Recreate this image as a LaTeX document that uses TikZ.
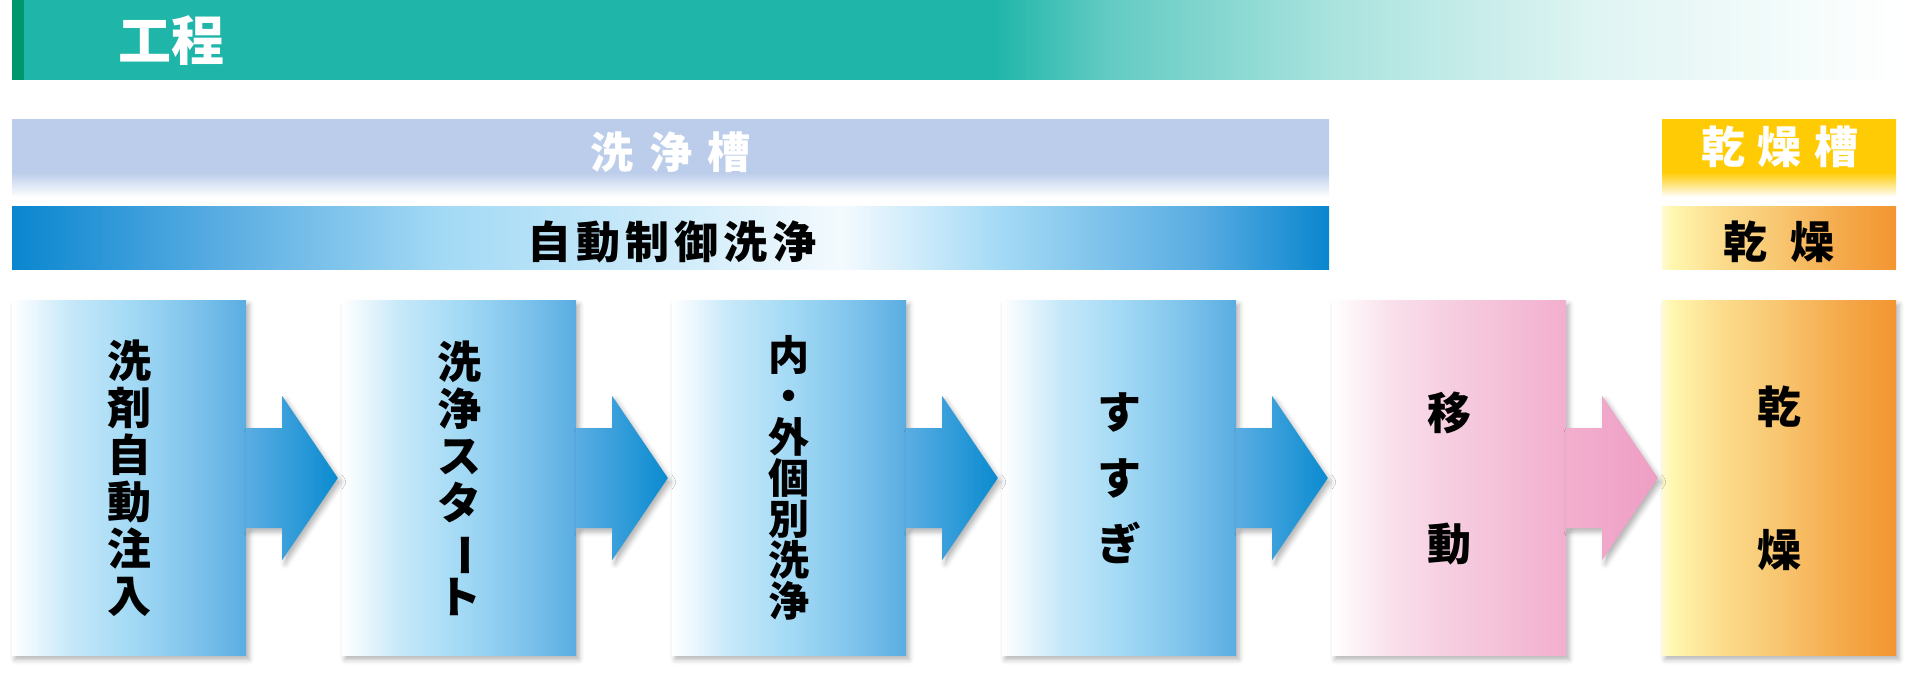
\documentclass[tikz,border=0pt]{standalone}
\usepackage{fontspec}
\newfontfamily\jp{Noto Sans CJK JP}
\usetikzlibrary{calc,shadows.blur}

\definecolor{titleteal}{HTML}{1FB5A9}
\definecolor{titledark}{HTML}{00966E}
\definecolor{tankblue}{HTML}{BBCDEA}
\definecolor{tankyellow}{HTML}{FFCB05}
\definecolor{autodeep}{HTML}{0A86CF}
\definecolor{washpale}{HTML}{C6E8F9}
\definecolor{washlight}{HTML}{A4DAF5}
\definecolor{washwhite}{HTML}{F4FAFE}
\definecolor{washright}{HTML}{5AADE2}
\definecolor{washtip}{HTML}{0A8BD0}
\definecolor{movepale}{HTML}{F9E0EB}
\definecolor{movemid}{HTML}{F6CEE0}
\definecolor{moveright}{HTML}{F2AFCE}
\definecolor{movetip}{HTML}{EE9EC4}
\definecolor{dryleft}{HTML}{FFF7B0}
\definecolor{drymid}{HTML}{F8C670}
\definecolor{dryright}{HTML}{F29530}

\pgfdeclarehorizontalshading{titlefade}{100bp}{color(0bp)=(titleteal); color(51bp)=(titleteal); color(54bp)=(titleteal!70!white); color(60bp)=(titleteal!38!white); color(67bp)=(titleteal!14!white); color(75bp)=(white); color(100bp)=(white)}
\pgfdeclareverticalshading{tankfade}{100bp}{color(0bp)=(white); color(25bp)=(white); color(41bp)=(tankblue); color(100bp)=(tankblue)}
\pgfdeclareverticalshading{drytankfade}{100bp}{color(0bp)=(white); color(25bp)=(white); color(41bp)=(tankyellow); color(100bp)=(tankyellow)}
\pgfdeclarehorizontalshading{autofade}{100bp}{color(0bp)=(autodeep); color(25bp)=(autodeep); color(33bp)=(washright); color(41.5bp)=(washlight); color(48.5bp)=(washpale); color(56.5bp)=(washwhite); color(62.5bp)=(washlight); color(70bp)=(washright); color(75bp)=(autodeep); color(100bp)=(autodeep)}
\pgfdeclarehorizontalshading{washbox}{100bp}{color(0bp)=(white); color(25bp)=(white); color(37.5bp)=(washpale); color(50bp)=(washlight); color(62.5bp)=(washlight!55!washright); color(75bp)=(washright); color(100bp)=(washright)}
\pgfdeclarehorizontalshading{movebox}{100bp}{color(0bp)=(white); color(25bp)=(white); color(37.5bp)=(movepale); color(50bp)=(movemid); color(62.5bp)=(movemid!50!moveright); color(75bp)=(moveright); color(100bp)=(moveright)}
\pgfdeclarehorizontalshading{drybox}{100bp}{color(0bp)=(dryleft); color(25bp)=(dryleft!60!white); color(27bp)=(dryleft); color(37.5bp)=(dryleft!45!drymid); color(50bp)=(drymid); color(62.5bp)=(drymid!45!dryright); color(75bp)=(dryright); color(100bp)=(dryright)}

\tikzset{
  bar/.style={minimum width=1317pt, minimum height=#1, inner sep=0pt, shade},
  barlabel/.style={inner sep=0pt, font=\jp\bfseries\fontsize{44}{44}\selectfont},
  stepbox/.style={minimum width=234pt, minimum height=355pt, inner sep=0pt, align=center,
    shade, font=\jp\bfseries\fontsize{44}{47}\selectfont,
    blur shadow={shadow xshift=3pt, shadow yshift=-4pt, shadow blur radius=5pt, shadow opacity=30}},
  washarrow/.style={left color=washright, right color=washtip,
    blur shadow={shadow xshift=3pt, shadow yshift=-4pt, shadow blur radius=5pt, shadow opacity=30}},
  movearrow/.style={washarrow, left color=moveright, right color=movetip}
}

\begin{document}
\begin{tikzpicture}[x=1pt,y=-1pt]
  \useasboundingbox (0,0) rectangle (1920,679);

  % header
  \shade[shading=titlefade] (12,0) rectangle (1900,80);
  \fill[titledark] (12,0) rectangle (24,80);
  \node[anchor=west, inner sep=0pt, text=white, font=\jp\bfseries\fontsize{53}{53}\selectfont] (title) at (118,41) {工程};

  % tanks
  \node[bar=77pt, shading=tankfade] (tank) at (670.5,158.5) {};
  \node[barlabel, text=white, font=\jp\bfseries\fontsize{43}{43}\selectfont] (tanktext) at (670.5,152.5) {洗\kern16pt 浄\kern16pt 槽};
  \node[bar=62pt, shading=autofade] (auto) at (670.5,238) {};
  \node[barlabel] (autotext) at (672,242) {自\kern5pt 動\kern5pt 制\kern5pt 御\kern5pt 洗\kern5pt 浄};
  \node[bar=77pt, minimum width=234pt, shading=drytankfade] (drytank) at (1779,158.5) {};
  \node[barlabel, text=white] (drytanktext) at (1780,147) {乾\kern13pt 燥\kern13pt 槽};
  \node[bar=62pt, minimum width=234pt, shading=drybox] (dry) at (1779,238) {};
  \node[barlabel] (drytext) at (1779,242) {乾\kern23pt 燥};

  % steps
  \node[stepbox, shading=washbox] (b1) at (129,478) {洗\\剤\\自\\動\\注\\入};
  \node[stepbox, shading=washbox] (b2) at (459,478) {洗\\浄\\ス\\タ\\\rotatebox[origin=c]{-90}{ー}\\ト};
  \node[stepbox, shading=washbox, font=\jp\bfseries\fontsize{41}{41}\selectfont] (b3) at (789,478) {内\\・\\外\\個\\別\\洗\\浄};
  \node[stepbox, shading=washbox, font=\jp\bfseries\fontsize{44}{66}\selectfont] (b4) at (1119,478) {す\\す\\ぎ};
  \node[stepbox, shading=movebox, font=\jp\bfseries\fontsize{44}{131}\selectfont] (b5) at (1449,478) {移\\動};
  \node[stepbox, shading=drybox, font=\jp\bfseries\fontsize{44}{143}\selectfont] (b6) at (1779,478) {乾\\燥};

  \shade[washarrow] ($(b1.east)+(0,-50)$) -- ++(36,0) -- ++(0,-32) -- ($(b2.west)+(-4,0)$) -- ($(b1.east)+(36,82)$) -- ++(0,-32) -- ($(b1.east)+(0,50)$) -- cycle;
  \shade[washarrow] ($(b2.east)+(0,-50)$) -- ++(36,0) -- ++(0,-32) -- ($(b3.west)+(-4,0)$) -- ($(b2.east)+(36,82)$) -- ++(0,-32) -- ($(b2.east)+(0,50)$) -- cycle;
  \shade[washarrow] ($(b3.east)+(0,-50)$) -- ++(36,0) -- ++(0,-32) -- ($(b4.west)+(-4,0)$) -- ($(b3.east)+(36,82)$) -- ++(0,-32) -- ($(b3.east)+(0,50)$) -- cycle;
  \shade[washarrow] ($(b4.east)+(0,-50)$) -- ++(36,0) -- ++(0,-32) -- ($(b5.west)+(-4,0)$) -- ($(b4.east)+(36,82)$) -- ++(0,-32) -- ($(b4.east)+(0,50)$) -- cycle;
  \shade[movearrow] ($(b5.east)+(0,-50)$) -- ++(36,0) -- ++(0,-32) -- ($(b6.west)+(-4,0)$) -- ($(b5.east)+(36,82)$) -- ++(0,-32) -- ($(b5.east)+(0,50)$) -- cycle;
\end{tikzpicture}
\end{document}
